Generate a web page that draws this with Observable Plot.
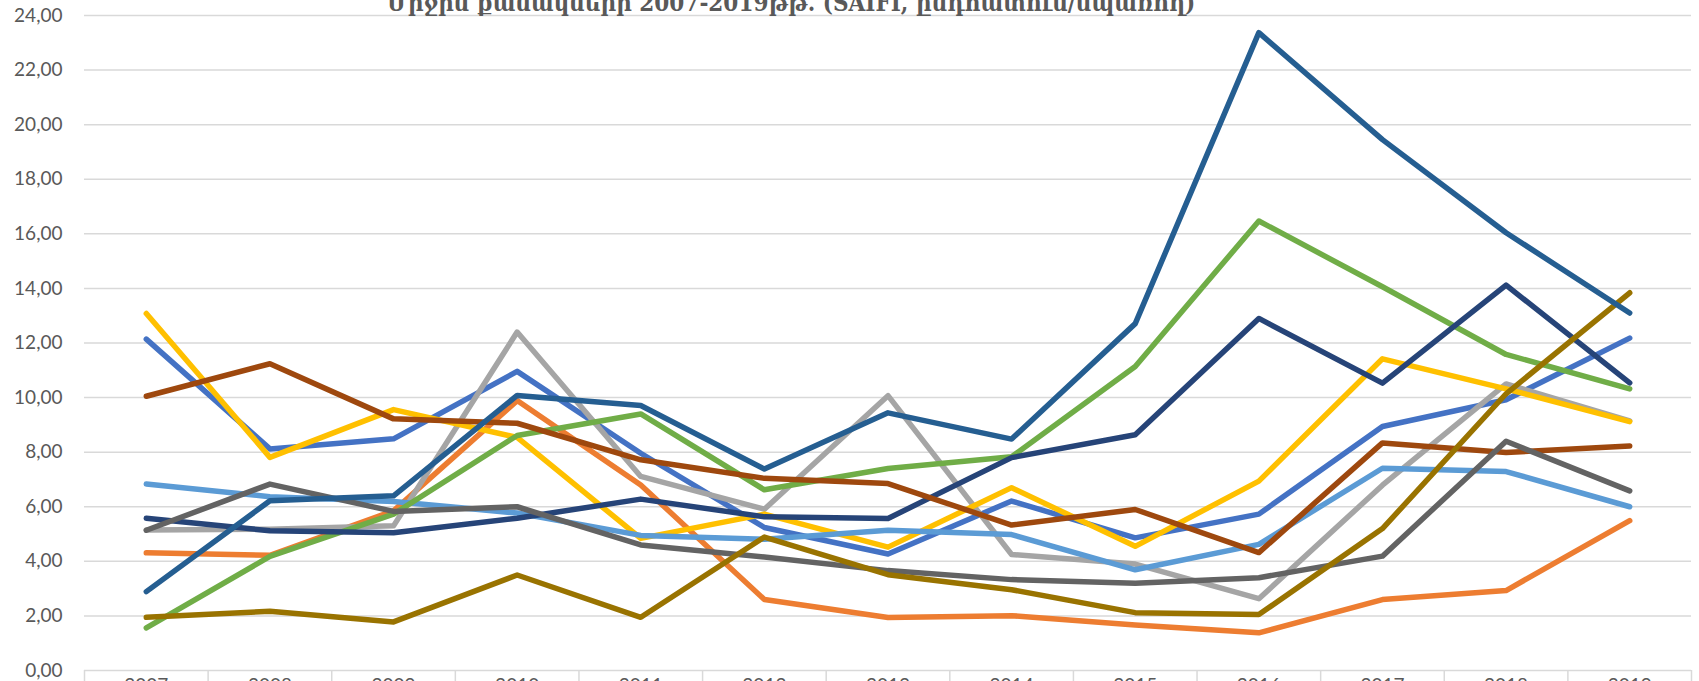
<!DOCTYPE html>
<html>
<head>
<meta charset="utf-8">
<script src="https://cdn.jsdelivr.net/npm/d3@7"></script>
<script src="https://cdn.jsdelivr.net/npm/@observablehq/plot@0.6"></script>
<style>
  html, body { margin: 0; padding: 0; background: #fff; overflow: hidden; }
  #wrap { position: relative; width: 1699px; height: 681px; overflow: hidden; background: #fff; }
  #title {
    position: absolute; left: 387px; top: -9px; white-space: nowrap;
    font-family: "DejaVu Serif Condensed", "DejaVu Serif", serif;
    font-size: 24px; line-height: 24px; color: #595959; font-weight: bold;
  }
</style>
</head>
<body>
<div id="wrap"><div id="chart"></div><div id="title"></div></div>
<script>
const titleText = "Միջին քանակների 2007-2019թթ. (SAIFI, ընդհատում/սպառող)";

const years = [2007, 2008, 2009, 2010, 2011, 2012, 2013, 2014, 2015, 2016, 2017, 2018, 2019];
const yTicks = [0, 2, 4, 6, 8, 10, 12, 14, 16, 18, 20, 22, 24];

const seriesNames = ["Շարք 1", "Շարք 2", "Շարք 3", "Շարք 4", "Շարք 5", "Շարք 6",
                     "Շարք 7", "Շարք 8", "Շարք 9", "Շարք 10", "Շարք 11"];

const series1  = [12.14, 8.12, 8.49, 10.96, 7.96, 5.24, 4.27, 6.21, 4.86, 5.73, 8.94, 9.92, 12.18];
const series2  = [4.31, 4.22, 5.85, 9.89, 6.80, 2.60, 1.94, 2.01, 1.67, 1.38, 2.60, 2.93, 5.49];
const series3  = [5.15, 5.18, 5.30, 12.40, 7.11, 5.91, 10.07, 4.25, 3.90, 2.63, 6.79, 10.50, 9.15];
const series4  = [13.08, 7.81, 9.56, 8.54, 4.84, 5.73, 4.52, 6.70, 4.55, 6.94, 11.42, 10.32, 9.12];
const series5  = [6.83, 6.37, 6.19, 5.77, 4.95, 4.81, 5.14, 4.98, 3.69, 4.62, 7.41, 7.29, 6.00];
const series6  = [1.56, 4.18, 5.73, 8.61, 9.40, 6.62, 7.40, 7.83, 11.14, 16.47, 14.06, 11.58, 10.32];
const series7  = [5.58, 5.12, 5.05, 5.58, 6.28, 5.63, 5.57, 7.80, 8.64, 12.90, 10.53, 14.12, 10.54];
const series8  = [10.05, 11.24, 9.22, 9.06, 7.72, 7.04, 6.85, 5.33, 5.90, 4.32, 8.34, 7.99, 8.23];
const series9  = [5.14, 6.83, 5.83, 6.00, 4.60, 4.16, 3.66, 3.33, 3.20, 3.40, 4.19, 8.40, 6.58];
const series10 = [1.95, 2.17, 1.78, 3.50, 1.95, 4.89, 3.51, 2.96, 2.12, 2.05, 5.20, 10.14, 13.84];
const series11 = [2.89, 6.22, 6.40, 10.08, 9.71, 7.38, 9.44, 8.48, 12.71, 23.37, 19.45, 16.04, 13.10];

const colors = ["#4472C4", "#ED7D31", "#A5A5A5", "#FFC000", "#5B9BD5", "#70AD47",
                "#264478", "#9E480E", "#636363", "#997300", "#255E91"];

const allSeries = [series1, series2, series3, series4, series5, series6,
                   series7, series8, series9, series10, series11];

const rows = seriesNames.flatMap((name, i) =>
  years.map((yr, j) => ({series: name, year: yr, value: allSeries[i][j]})));

const boundaries = years.map(y => y - 0.5).concat([years[years.length - 1] + 0.5]);
const fmt = d => d.toFixed(2).replace(".", ",");

const chart = Plot.plot({
  width: 1699,
  height: 681,
  marginLeft: 84,
  marginRight: 8,
  marginTop: 15,
  marginBottom: 11,
  style: {fontFamily: "Lato, 'Open Sans', sans-serif", color: "#595959", background: "#fff", overflow: "visible"},
  x: {type: "linear", domain: [years[0] - 0.5, years[years.length - 1] + 0.5]},
  y: {domain: [0, 24]},
  color: {domain: seriesNames, range: colors},
  marks: [
    Plot.ruleY(yTicks, {stroke: "#d9d9d9", strokeWidth: 1.5}),
    Plot.axisX(boundaries, {tickSize: 14, tickFormat: () => "", stroke: "#d9d9d9", strokeWidth: 1.5, strokeOpacity: 1, label: null}),
    Plot.axisX(years, {tickSize: 0, tickPadding: 8, tickFormat: d => String(d), fontSize: 19, label: null}),
    Plot.axisY(yTicks, {tickSize: 0, tickPadding: 22, tickFormat: fmt, fontSize: 19, label: null}),
    Plot.line(rows, {
      x: "year", y: "value", z: "series", stroke: "series",
      strokeWidth: 5.5, strokeLinejoin: "round", strokeLinecap: "round"
    })
  ]
});

document.getElementById("chart").appendChild(chart);
document.getElementById("title").textContent = titleText;
</script>
</body>
</html>
